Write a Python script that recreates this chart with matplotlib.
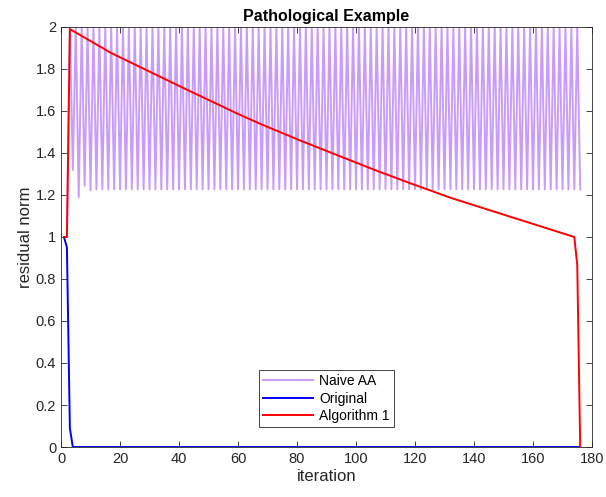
import matplotlib.pyplot as plt

plt.rcParams['font.family'] = ['Liberation Sans', 'DejaVu Sans']

# Naive AA: start-up values, then a steady 2-cycle
naive_start = [1.0, 1.0, 2.0, 1.32, 2.0, 1.19, 2.0, 1.244, 2.0, 1.222]
naive_high = 2.0
naive_low = 1.227
naive_cycles = 83

# Original
orig_start = [1.0, 0.95, 0.09]
orig_zero_count = 173

# Algorithm 1 (read at knots)
alg_x = [1, 2, 3, 17, 42, 60, 68, 81, 106, 118, 132, 145, 174, 175, 176]
alg_y = [1.0, 1.0, 1.99, 1.876, 1.706, 1.586, 1.536, 1.46, 1.321, 1.258, 1.187, 1.129, 1.0, 0.867, 0.0]


def main():
    naive = naive_start + [naive_high, naive_low] * naive_cycles
    naive_x = list(range(1, len(naive) + 1))
    orig = orig_start + [0.0] * orig_zero_count
    orig_x = list(range(1, len(orig) + 1))

    fig = plt.figure(figsize=(6.06, 4.97), dpi=100)
    ax = fig.add_axes([0.1007, 0.1006, 0.8762, 0.8451])

    ax.plot(naive_x, naive, color='#c99bfb', lw=1.4, label='Naive AA')
    ax.plot(orig_x, orig, color='#0000ff', lw=1.4, label='Original')
    ax.plot(alg_x, alg_y, color='#ff0000', lw=1.4, label='Algorithm 1')

    ax.set_xlim(0, 180)
    ax.set_ylim(0, 2)
    ax.set_xticks(range(0, 181, 20))
    ax.set_yticks([i / 5 for i in range(11)])
    ax.set_yticklabels(['0', '0.2', '0.4', '0.6', '0.8', '1', '1.2', '1.4', '1.6', '1.8', '2'])
    ax.tick_params(direction='in', top=True, right=True, labelsize=10.5,
                   colors='#262626', length=4, width=0.6)
    for s in ax.spines.values():
        s.set_color('#262626')
        s.set_linewidth(0.6)

    ax.set_xlabel('iteration', fontsize=12, color='#262626', labelpad=2)
    ax.set_ylabel('residual norm', fontsize=12, color='#262626', labelpad=2)
    ax.set_title('Pathological Example', fontsize=11.5, fontweight='bold', pad=4)

    leg = ax.legend(loc='lower center', bbox_to_anchor=(0.5, 0.03), fontsize=10,
                    handlelength=3.6, fancybox=False, framealpha=1,
                    edgecolor='#262626', borderpad=0.3, labelspacing=0.25,
                    handletextpad=0.4)
    leg.get_frame().set_linewidth(0.6)

    fig.savefig('out.png', dpi=100)
    plt.close(fig)


if __name__ == "__main__":
    main()
